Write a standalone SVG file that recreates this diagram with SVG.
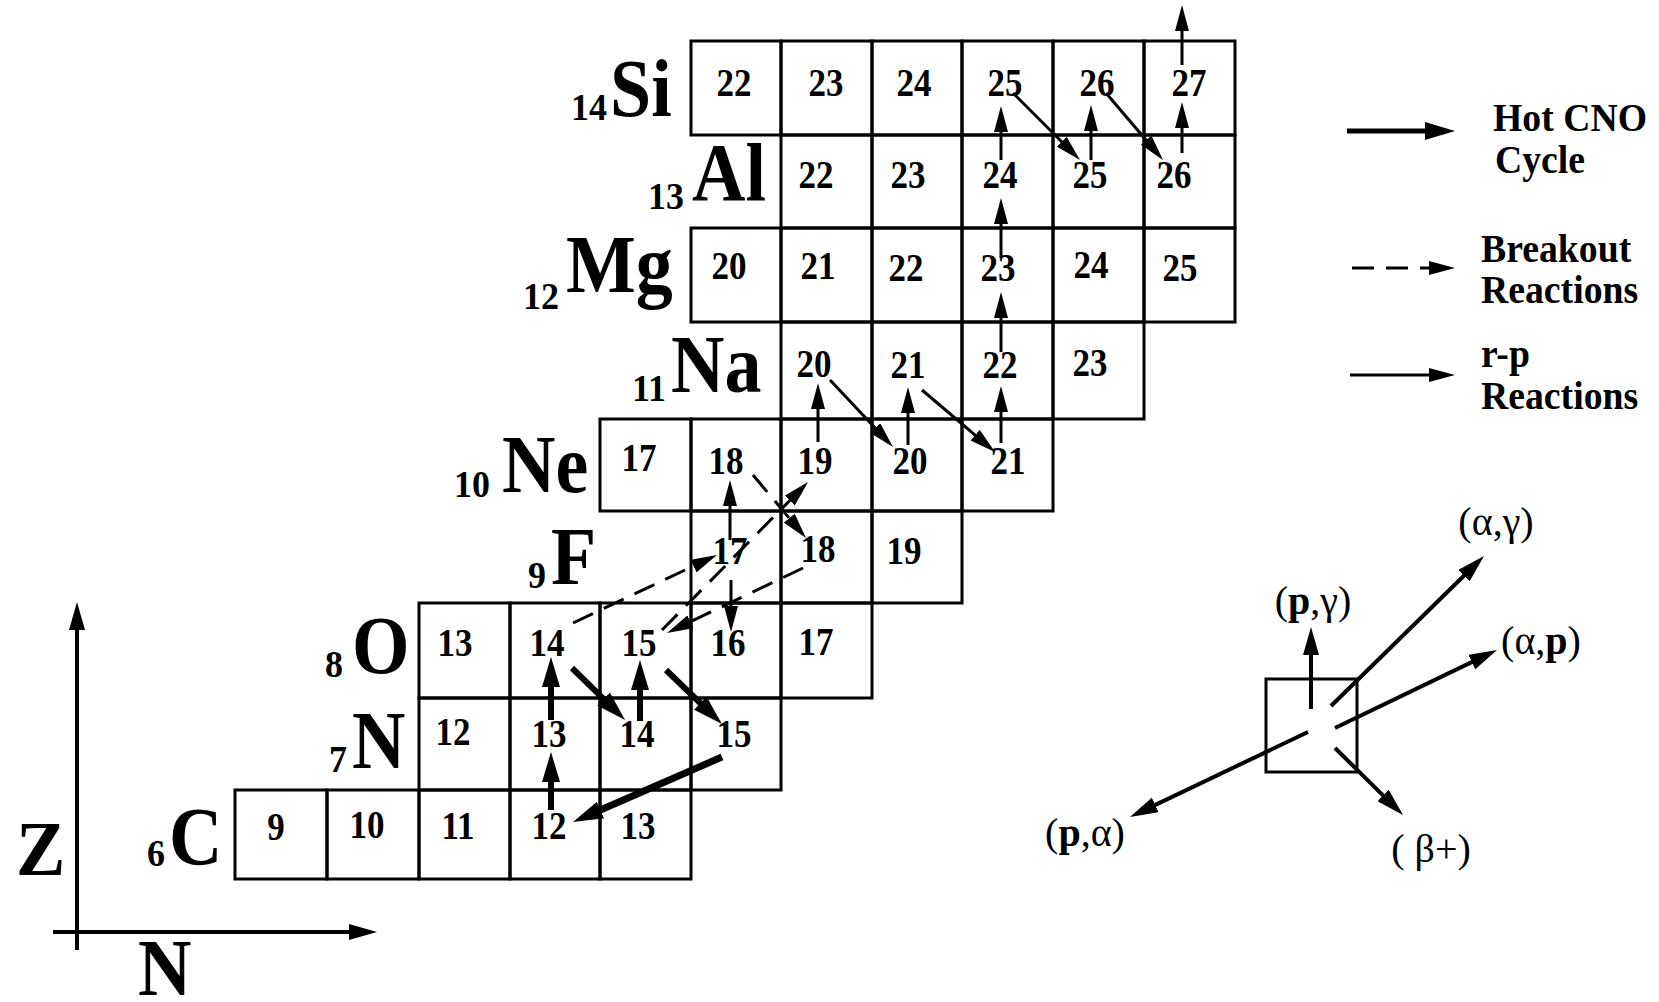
<svg xmlns="http://www.w3.org/2000/svg" width="1659" height="1002" viewBox="0 0 1659 1002">
<style>
.c rect{fill:none;stroke:#000;stroke-width:3}
.num{font-family:"Liberation Serif","Times New Roman",serif;font-weight:bold;font-size:35px;text-anchor:middle;fill:#000}
.sym{font-family:"Liberation Serif","Times New Roman",serif;font-weight:bold;font-size:74px;fill:#000}
.sub{font-family:"Liberation Serif","Times New Roman",serif;font-weight:bold;font-size:36px;fill:#000}
.lg{font-family:"Liberation Serif","Times New Roman",serif;font-weight:bold;font-size:37px;fill:#000}
.rx{font-family:"Liberation Serif","Times New Roman",serif;font-size:40px;text-anchor:middle;fill:#000}
.cno{stroke:#000;stroke-width:6;fill:none;marker-end:url(#hc)}
.rp{stroke:#000;stroke-width:3;fill:none;marker-end:url(#hr)}
.bo{stroke:#000;stroke-width:3;fill:none;stroke-dasharray:22 12;marker-end:url(#hr)}
.ax{stroke:#000;stroke-width:4;fill:none;marker-end:url(#hl)}
</style>
<defs>
<marker id="hc" markerUnits="userSpaceOnUse" viewBox="0 0 30 18" markerWidth="30" markerHeight="18" refX="12" refY="9" orient="auto"><path d="M0,0 L30,9 L0,18 z" fill="#000"/></marker>
<marker id="hr" markerUnits="userSpaceOnUse" viewBox="0 0 26 14" markerWidth="26" markerHeight="14" refX="10" refY="7" orient="auto"><path d="M0,0 L26,7 L0,14 z" fill="#000"/></marker>
<marker id="hl" markerUnits="userSpaceOnUse" viewBox="0 0 28 16" markerWidth="28" markerHeight="16" refX="12" refY="8" orient="auto"><path d="M0,0 L28,8 L0,16 z" fill="#000"/></marker>
</defs>
<rect width="1659" height="1002" fill="#fff"/>

<g id="cells" class="c">
<g id="Si22"><rect x="691" y="41" width="90" height="94"/><text class="num" transform="translate(734 96) scale(1 1.14)">22</text></g>
<g id="Si23"><rect x="781" y="41" width="91" height="94"/><text class="num" transform="translate(826 96) scale(1 1.14)">23</text></g>
<g id="Si24"><rect x="872" y="41" width="90" height="94"/><text class="num" transform="translate(914 96) scale(1 1.14)">24</text></g>
<g id="Si25"><rect x="962" y="41" width="91" height="94"/><text class="num" transform="translate(1005 96) scale(1 1.14)">25</text></g>
<g id="Si26"><rect x="1053" y="41" width="91" height="94"/><text class="num" transform="translate(1097 96) scale(1 1.14)">26</text></g>
<g id="Si27"><rect x="1144" y="41" width="91" height="94"/><text class="num" transform="translate(1189 96) scale(1 1.14)">27</text></g>
<g id="Al22"><rect x="781" y="135" width="91" height="93"/><text class="num" transform="translate(816 188) scale(1 1.14)">22</text></g>
<g id="Al23"><rect x="872" y="135" width="90" height="93"/><text class="num" transform="translate(908 188) scale(1 1.14)">23</text></g>
<g id="Al24"><rect x="962" y="135" width="91" height="93"/><text class="num" transform="translate(1000 188) scale(1 1.14)">24</text></g>
<g id="Al25"><rect x="1053" y="135" width="91" height="93"/><text class="num" transform="translate(1090 188) scale(1 1.14)">25</text></g>
<g id="Al26"><rect x="1144" y="135" width="91" height="93"/><text class="num" transform="translate(1174 188) scale(1 1.14)">26</text></g>
<g id="Mg20"><rect x="691" y="228" width="90" height="94"/><text class="num" transform="translate(729 279) scale(1 1.14)">20</text></g>
<g id="Mg21"><rect x="781" y="228" width="91" height="94"/><text class="num" transform="translate(818 279) scale(1 1.14)">21</text></g>
<g id="Mg22"><rect x="872" y="228" width="90" height="94"/><text class="num" transform="translate(906 281) scale(1 1.14)">22</text></g>
<g id="Mg23"><rect x="962" y="228" width="91" height="94"/><text class="num" transform="translate(998 281) scale(1 1.14)">23</text></g>
<g id="Mg24"><rect x="1053" y="228" width="91" height="94"/><text class="num" transform="translate(1091 278) scale(1 1.14)">24</text></g>
<g id="Mg25"><rect x="1144" y="228" width="91" height="94"/><text class="num" transform="translate(1180 281) scale(1 1.14)">25</text></g>
<g id="Na20"><rect x="781" y="322" width="91" height="97"/><text class="num" transform="translate(814 377) scale(1 1.14)">20</text></g>
<g id="Na21"><rect x="872" y="322" width="90" height="97"/><text class="num" transform="translate(908 378) scale(1 1.14)">21</text></g>
<g id="Na22"><rect x="962" y="322" width="91" height="97"/><text class="num" transform="translate(1000 378) scale(1 1.14)">22</text></g>
<g id="Na23"><rect x="1053" y="322" width="91" height="97"/><text class="num" transform="translate(1090 376) scale(1 1.14)">23</text></g>
<g id="Ne17"><rect x="600" y="419" width="91" height="92"/><text class="num" transform="translate(639 471) scale(1 1.14)">17</text></g>
<g id="Ne18"><rect x="691" y="419" width="90" height="92"/><text class="num" transform="translate(726 474) scale(1 1.14)">18</text></g>
<g id="Ne19"><rect x="781" y="419" width="91" height="92"/><text class="num" transform="translate(815 474) scale(1 1.14)">19</text></g>
<g id="Ne20"><rect x="872" y="419" width="90" height="92"/><text class="num" transform="translate(910 474) scale(1 1.14)">20</text></g>
<g id="Ne21"><rect x="962" y="419" width="91" height="92"/><text class="num" transform="translate(1008 474) scale(1 1.14)">21</text></g>
<g id="F17"><rect x="691" y="511" width="90" height="92"/><text class="num" transform="translate(730 564) scale(1 1.14)">17</text></g>
<g id="F18"><rect x="781" y="511" width="91" height="92"/><text class="num" transform="translate(818 562) scale(1 1.14)">18</text></g>
<g id="F19"><rect x="872" y="511" width="90" height="92"/><text class="num" transform="translate(904 564) scale(1 1.14)">19</text></g>
<g id="O13"><rect x="419" y="603" width="91" height="95"/><text class="num" transform="translate(455 656) scale(1 1.14)">13</text></g>
<g id="O14"><rect x="510" y="603" width="90" height="95"/><text class="num" transform="translate(547 656) scale(1 1.14)">14</text></g>
<g id="O15"><rect x="600" y="603" width="91" height="95"/><text class="num" transform="translate(639 656) scale(1 1.14)">15</text></g>
<g id="O16"><rect x="691" y="603" width="90" height="95"/><text class="num" transform="translate(728 656) scale(1 1.14)">16</text></g>
<g id="O17"><rect x="781" y="603" width="91" height="95"/><text class="num" transform="translate(816 655) scale(1 1.14)">17</text></g>
<g id="N12"><rect x="419" y="698" width="91" height="92"/><text class="num" transform="translate(453 745) scale(1 1.14)">12</text></g>
<g id="N13"><rect x="510" y="698" width="90" height="92"/><text class="num" transform="translate(549 747) scale(1 1.14)">13</text></g>
<g id="N14"><rect x="600" y="698" width="91" height="92"/><text class="num" transform="translate(637 747) scale(1 1.14)">14</text></g>
<g id="N15"><rect x="691" y="698" width="90" height="92"/><text class="num" transform="translate(734 747) scale(1 1.14)">15</text></g>
<g id="C9"><rect x="235" y="790" width="92" height="89"/><text class="num" transform="translate(276 840) scale(1 1.14)">9</text></g>
<g id="C10"><rect x="327" y="790" width="92" height="89"/><text class="num" transform="translate(367 838) scale(1 1.14)">10</text></g>
<g id="C11"><rect x="419" y="790" width="91" height="89"/><text class="num" transform="translate(458 839) scale(1 1.14)">11</text></g>
<g id="C12"><rect x="510" y="790" width="90" height="89"/><text class="num" transform="translate(549 839) scale(1 1.14)">12</text></g>
<g id="C13"><rect x="600" y="790" width="91" height="89"/><text class="num" transform="translate(638 839) scale(1 1.14)">13</text></g>
</g>

<g id="element-labels">
<g id="lab-Si"><text class="sub" transform="translate(571 120) scale(1 1.05)">14</text><text class="sym" transform="translate(610 116) scale(1 1.12)">Si</text></g>
<g id="lab-Al"><text class="sub" transform="translate(648 209) scale(1 1.05)">13</text><text class="sym" transform="translate(692 200) scale(1 1.12)">Al</text></g>
<g id="lab-Mg"><text class="sub" transform="translate(523 309) scale(1 1.05)">12</text><text class="sym" transform="translate(566 292) scale(1 1.12)">Mg</text></g>
<g id="lab-Na"><text class="sub" transform="translate(632 401) scale(1 1.05)">11</text><text class="sym" transform="translate(671 392) scale(1 1.12)">Na</text></g>
<g id="lab-Ne"><text class="sub" transform="translate(454 497) scale(1 1.05)">10</text><text class="sym" transform="translate(502 492) scale(1 1.12)">Ne</text></g>
<g id="lab-F"><text class="sub" transform="translate(528 588) scale(1 1.05)">9</text><text class="sym" transform="translate(551 584) scale(1 1.12)">F</text></g>
<g id="lab-O"><text class="sub" transform="translate(325 677) scale(1 1.05)">8</text><text class="sym" transform="translate(352 673) scale(1 1.12)">O</text></g>
<g id="lab-N"><text class="sub" transform="translate(329 772) scale(1 1.05)">7</text><text class="sym" transform="translate(352 768) scale(1 1.12)">N</text></g>
<g id="lab-C"><text class="sub" transform="translate(147 866) scale(1 1.05)">6</text><text class="sym" transform="translate(169 864) scale(1 1.12)">C</text></g>
</g>

<g id="axes">
<line class="ax" x1="77" y1="950" x2="77" y2="618"/>
<line class="ax" x1="53" y1="932" x2="361" y2="932"/>
<text class="sym" font-size="70" transform="translate(16 875) scale(1 1.05)">Z</text>
<text class="sym" transform="translate(138 995) scale(1 1.1)">N</text>
</g>

<g id="connectors">
<line class="cno" x1="551" y1="810" x2="551" y2="770"/>
<line class="cno" x1="551" y1="720" x2="551" y2="675"/>
<line class="cno" x1="572" y1="668" x2="612.2" y2="707.4"/>
<line class="cno" x1="640" y1="721" x2="640" y2="678"/>
<line class="cno" x1="666" y1="670" x2="709" y2="711.5"/>
<line class="cno" style="stroke-width:7" x1="722" y1="757" x2="589.5" y2="814.8"/>
<line class="bo" x1="573" y1="623" x2="702.5" y2="561.8"/>
<line class="rp" x1="730" y1="540" x2="730" y2="496"/>
<line class="bo" x1="753" y1="475" x2="795.7" y2="525.8"/>
<line class="bo" x1="803" y1="568" x2="681.4" y2="626.1"/>
<line class="bo" x1="662" y1="630" x2="796.8" y2="493.4"/>
<line class="rp" x1="731" y1="580" x2="731" y2="616"/>
<line class="rp" x1="818" y1="442" x2="818" y2="399"/>
<line class="rp" x1="830" y1="380" x2="882" y2="435.3"/>
<line class="rp" x1="908" y1="445" x2="908" y2="403"/>
<line class="rp" x1="922" y1="390" x2="982.8" y2="441.6"/>
<line class="rp" x1="1001" y1="443" x2="1001" y2="402"/>
<line class="rp" x1="1001" y1="352" x2="1001" y2="308"/>
<line class="rp" x1="1001" y1="258" x2="1001" y2="214"/>
<line class="rp" x1="1001" y1="160" x2="1001" y2="122"/>
<line class="rp" x1="1013" y1="93" x2="1068.7" y2="148.7"/>
<line class="rp" x1="1091" y1="160" x2="1091" y2="121"/>
<line class="rp" x1="1106" y1="93" x2="1152.6" y2="147.8"/>
<line class="rp" x1="1182" y1="153" x2="1182" y2="118"/>
<line class="rp" x1="1182" y1="65" x2="1182" y2="21"/>
</g>

<g id="legend-lines">
<line class="cno" style="stroke-width:5" x1="1347" y1="131" x2="1437" y2="131"/>
<text class="lg" transform="translate(1493 131) scale(1.02 1.06)">Hot CNO</text>
<text class="lg" transform="translate(1495 173) scale(1.02 1.06)">Cycle</text>
<line class="bo" x1="1352" y1="268" x2="1439" y2="268"/>
<text class="lg" transform="translate(1481 262) scale(1.02 1.06)">Breakout</text>
<text class="lg" transform="translate(1481 303) scale(1.02 1.06)">Reactions</text>
<line class="rp" x1="1350" y1="375" x2="1439" y2="375"/>
<text class="lg" transform="translate(1481 367) scale(1.02 1.06)">r-p</text>
<text class="lg" transform="translate(1481 409) scale(1.02 1.06)">Reactions</text>
</g>

<g id="legend-reactions">
<rect x="1266" y="679" width="91" height="93" fill="none" stroke="#000" stroke-width="3"/>
<line class="ax" x1="1311" y1="709" x2="1311" y2="643"/>
<line class="ax" x1="1331" y1="706" x2="1472.6" y2="567.2"/>
<line class="ax" x1="1335" y1="728" x2="1482.6" y2="656.9"/>
<line class="ax" x1="1308" y1="732" x2="1144.4" y2="810.1"/>
<line class="ax" x1="1335" y1="748" x2="1391.6" y2="803.8"/>
<text class="rx" x="1496" y="535">(α,γ)</text>
<text class="rx" x="1313" y="614">(<tspan font-weight="bold">p</tspan>,γ)</text>
<text class="rx" x="1541" y="654">(α,<tspan font-weight="bold">p</tspan>)</text>
<text class="rx" x="1085" y="846">(<tspan font-weight="bold">p</tspan>,α)</text>
<text class="rx" x="1431" y="862">( β+)</text>
</g>
</svg>
